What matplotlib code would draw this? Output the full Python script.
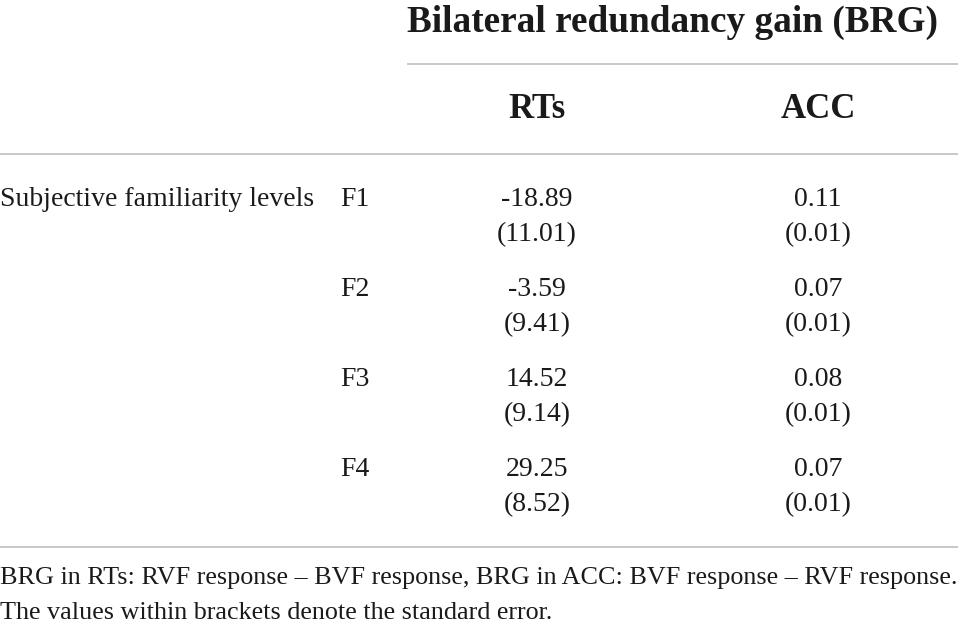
import matplotlib.pyplot as plt

# table contents
header = "Bilateral redundancy gain (BRG)"
columns = ["RTs", "ACC"]
row_group = "Subjective familiarity levels"
levels = ["F1", "F2", "F3", "F4"]
rt_means = ["-18.89", "-3.59", "14.52", "29.25"]
rt_se = ["11.01", "9.41", "9.14", "8.52"]
acc_means = ["0.11", "0.07", "0.08", "0.07"]
acc_se = ["0.01", "0.01", "0.01", "0.01"]
notes = ["BRG in RTs: RVF response \u2013 BVF response, BRG in ACC: BVF response \u2013 RVF response.",
         "The values within brackets denote the standard error."]

plt.rcParams['font.family'] = ['Liberation Serif', 'DejaVu Serif']

W, H = 958, 625
fig = plt.figure(figsize=(W / 100, H / 100), dpi=100)
ax = fig.add_axes([0, 0, 1, 1])
ax.set_xlim(0, W)
ax.set_ylim(H, 0)
ax.axis("off")

line_col = "#c4c4c4"
txt_col = "#1a1a1a"
fs = 20

# rules
ax.plot([408, W], [64, 64], color=line_col, lw=1.3)
ax.plot([0, W], [154, 154], color=line_col, lw=1.3)
ax.plot([0, W], [547, 547], color=line_col, lw=1.3)

# header
ax.text(673, 22, header, ha="center", va="center", fontsize=26.8, fontweight="bold", color=txt_col)
col_x = [537, 818]
for cx, name in zip(col_x, columns):
    ax.text(cx, 110, name, ha="center", va="center", fontsize=25, fontweight="bold", color=txt_col)

# body
ax.text(0, 200, row_group, ha="left", va="center", fontsize=fs, color=txt_col)
for i, lv in enumerate(levels):
    y = 200 + i * 90
    ax.text(340, y, lv, ha="left", va="center", fontsize=fs, color=txt_col)
    ax.text(col_x[0], y, rt_means[i], ha="center", va="center", fontsize=fs, color=txt_col)
    ax.text(col_x[0], y + 35, f"({rt_se[i]})", ha="center", va="center", fontsize=fs, color=txt_col)
    ax.text(col_x[1], y, acc_means[i], ha="center", va="center", fontsize=fs, color=txt_col)
    ax.text(col_x[1], y + 35, f"({acc_se[i]})", ha="center", va="center", fontsize=fs, color=txt_col)

# footnote
for j, note in enumerate(notes):
    ax.text(0, 578 + j * 35, note, ha="left", va="center", fontsize=18.8, color=txt_col)

fig.savefig("out.png", dpi=100, facecolor="white")
